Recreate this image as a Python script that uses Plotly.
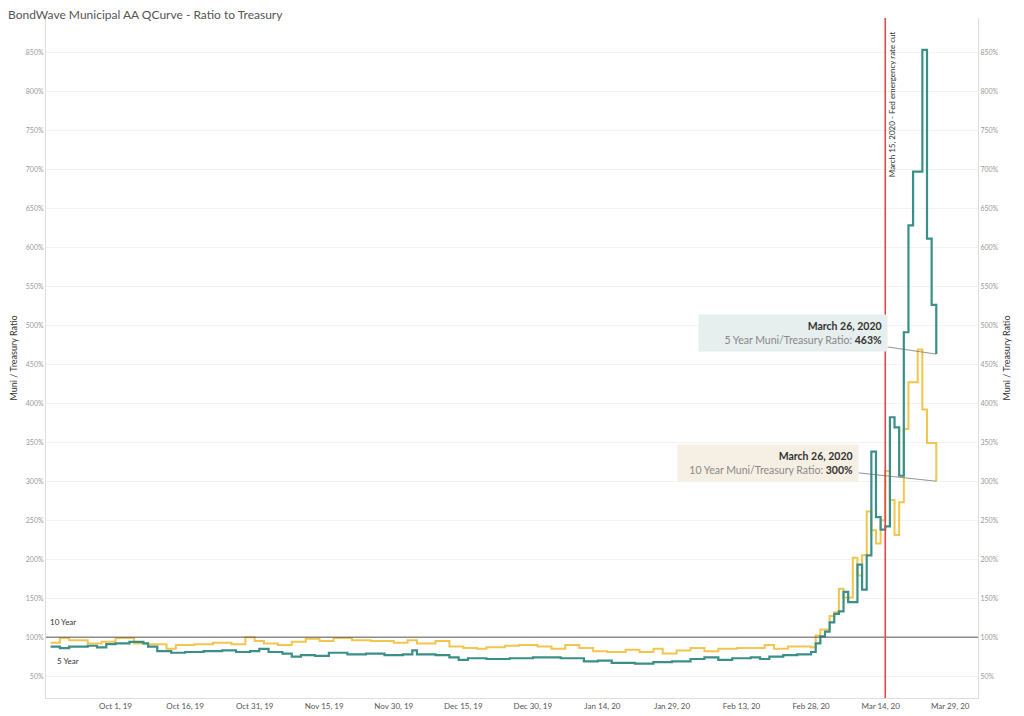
import plotly.graph_objects as go

# 5 year muni/treasury ratio, change points (step chart)
dates_5y = [
    '2019-09-17', '2019-09-19', '2019-09-21', '2019-09-25', '2019-09-27', '2019-09-29',
    '2019-10-01', '2019-10-04', '2019-10-07', '2019-10-08', '2019-10-10', '2019-10-13',
    '2019-10-16', '2019-10-20', '2019-10-24', '2019-10-27', '2019-10-30', '2019-11-01',
    '2019-11-03', '2019-11-06', '2019-11-08', '2019-11-10', '2019-11-13', '2019-11-16',
    '2019-11-20', '2019-11-24', '2019-11-28', '2019-12-02', '2019-12-04', '2019-12-05',
    '2019-12-09', '2019-12-12', '2019-12-14', '2019-12-16', '2019-12-20', '2019-12-25',
    '2019-12-30', '2020-01-05', '2020-01-10', '2020-01-13', '2020-01-16', '2020-01-21',
    '2020-01-25', '2020-01-29', '2020-02-02', '2020-02-05', '2020-02-08', '2020-02-11',
    '2020-02-15', '2020-02-17', '2020-02-19', '2020-02-22', '2020-02-25', '2020-02-28',
    '2020-02-29', '2020-03-01', '2020-03-02', '2020-03-03', '2020-03-04', '2020-03-05',
    '2020-03-06', '2020-03-07', '2020-03-09', '2020-03-10', '2020-03-11', '2020-03-12',
    '2020-03-13', '2020-03-14', '2020-03-15', '2020-03-16', '2020-03-17', '2020-03-18',
    '2020-03-19', '2020-03-20', '2020-03-21', '2020-03-23', '2020-03-24', '2020-03-25',
    '2020-03-26',
]
ratio_5y = [
    88, 86, 88, 89, 87, 91,
    92, 94, 92, 88, 82, 80,
    81, 82, 83, 81, 82, 85,
    81, 79, 75, 77, 76, 80,
    78, 79, 77, 78, 83, 78,
    77, 74, 71, 73, 72, 73,
    74, 73, 69, 70, 67, 66,
    68, 69, 72, 74, 71, 73,
    74, 72, 75, 77, 78, 81,
    92, 101, 107, 119, 130, 133,
    158, 145, 193, 161, 205, 338,
    254, 238, 242, 382, 369, 307,
    491, 628, 697, 853, 611, 526,
    463,
]

# 10 year muni/treasury ratio
dates_10y = [
    '2019-09-17', '2019-09-19', '2019-09-21', '2019-09-25', '2019-09-28', '2019-10-01',
    '2019-10-05', '2019-10-08', '2019-10-12', '2019-10-14', '2019-10-18', '2019-10-22',
    '2019-10-26', '2019-10-29', '2019-10-31', '2019-11-02', '2019-11-05', '2019-11-08',
    '2019-11-11', '2019-11-14', '2019-11-17', '2019-11-21', '2019-11-25', '2019-11-30',
    '2019-12-03', '2019-12-05', '2019-12-09', '2019-12-12', '2019-12-15', '2019-12-18',
    '2019-12-20', '2019-12-24', '2019-12-27', '2019-12-31', '2020-01-03', '2020-01-06',
    '2020-01-09', '2020-01-12', '2020-01-15', '2020-01-19', '2020-01-22', '2020-01-25',
    '2020-01-27', '2020-01-30', '2020-02-02', '2020-02-05', '2020-02-08', '2020-02-12',
    '2020-02-18', '2020-02-20', '2020-02-23', '2020-02-28',
    '2020-02-29', '2020-03-01', '2020-03-03', '2020-03-04', '2020-03-05',
    '2020-03-06', '2020-03-08', '2020-03-09', '2020-03-10', '2020-03-11', '2020-03-12',
    '2020-03-13', '2020-03-14', '2020-03-15', '2020-03-16', '2020-03-17', '2020-03-18',
    '2020-03-19', '2020-03-20', '2020-03-22', '2020-03-23', '2020-03-24', '2020-03-26',
]
ratio_10y = [
    93, 99, 96, 92, 94, 99,
    92, 91, 85, 90, 91, 93,
    91, 100, 95, 92, 90, 94,
    98, 95, 99, 96, 95, 93,
    96, 92, 95, 88, 86, 85,
    87, 89, 90, 88, 85, 90,
    86, 82, 81, 84, 81, 85,
    79, 83, 86, 82, 85, 86,
    90, 85, 88, 87,
    102, 110, 127, 132, 162,
    151, 202, 179, 205, 261, 237,
    220, 250, 313, 276, 231, 273,
    367, 427, 469, 392, 349, 300,
]

tick_dates = ['2019-10-01', '2019-10-16', '2019-10-31', '2019-11-15', '2019-11-30',
              '2019-12-15', '2019-12-30', '2020-01-14', '2020-01-29', '2020-02-13',
              '2020-02-28', '2020-03-14', '2020-03-29']
tick_labels = ['Oct 1, 19', 'Oct 16, 19', 'Oct 31, 19', 'Nov 15, 19', 'Nov 30, 19',
               'Dec 15, 19', 'Dec 30, 19', 'Jan 14, 20', 'Jan 29, 20', 'Feb 13, 20',
               'Feb 28, 20', 'Mar 14, 20', 'Mar 29, 20']
y_ticks = list(range(50, 851, 50))

TEAL = '#3a8f89'
GOLD = '#f1c54e'
FONT = 'Lato'

fig = go.Figure()
fig.add_trace(go.Scatter(x=dates_10y, y=ratio_10y, mode='lines', line_shape='hv',
                         line=dict(color=GOLD, width=2), name='10 Year'))
fig.add_trace(go.Scatter(x=dates_5y, y=ratio_5y, mode='lines', line_shape='hv',
                         line=dict(color=TEAL, width=2.2), name='5 Year'))
# invisible trace for right axis
fig.add_trace(go.Scatter(x=[dates_5y[0]], y=[100], yaxis='y2', mode='markers',
                         marker=dict(opacity=0), showlegend=False, hoverinfo='skip'))

yax = dict(range=[22, 894], tickvals=y_ticks, ticktext=[f'{v}%' for v in y_ticks],
           tickfont=dict(size=7, color='#999999', family=FONT),
           showgrid=True, gridcolor='#f3f3f3', zeroline=False, automargin=False,
           title=dict(text='Muni / Treasury Ratio', standoff=6,
                      font=dict(size=9, color='#333333', family=FONT)),
           showline=True, linecolor='#dddddd', ticks='')

fig.update_layout(
    width=1024, height=716,
    margin=dict(l=38, r=54, t=10, b=26),
    plot_bgcolor='white', paper_bgcolor='white',
    showlegend=False,
    title=dict(text='BondWave Municipal AA QCurve - Ratio to Treasury', x=0.0, y=0.997,
               xanchor='left', yanchor='top', pad=dict(t=0, l=0),
               font=dict(size=12, color='#555555', family=FONT)),
    xaxis=dict(range=['2019-09-16', '2020-04-04'], tickvals=tick_dates, ticktext=tick_labels,
               tickfont=dict(size=8, color='#555555', family=FONT), showgrid=False,
               automargin=False, showline=True, linecolor='#dddddd', ticks=''),
    yaxis=yax,
    yaxis2=dict(yax, overlaying='y', side='right'),
)

fig.add_hline(y=100, line=dict(color='#555555', width=1))
fig.add_vline(x='2020-03-15', line=dict(color='#e0474c', width=1.6))

fig.add_annotation(x='2020-03-15', y=880, xshift=7, text='March 15, 2020 - Fed emergency rate cut',
                   textangle=-90, showarrow=False, xanchor='center', yanchor='top',
                   font=dict(size=8, color='#333333', family=FONT))
fig.add_annotation(x='2020-03-26', y=463, ax=-143, ay=-21, showarrow=True, arrowhead=0,
                   arrowwidth=0.7, arrowcolor='#666666', align='right',
                   text='<b>March 26, 2020</b><br><span style="color:#888888">5 Year Muni/Treasury Ratio: </span><b>463%</b>',
                   bgcolor='#e7eeee', borderpad=5, width=178,
                   font=dict(size=10.5, color='#333333', family=FONT))
fig.add_annotation(x='2020-03-26', y=300, ax=-168, ay=-18, showarrow=True, arrowhead=0,
                   arrowwidth=0.7, arrowcolor='#666666', align='right',
                   text='<b>March 26, 2020</b><br><span style="color:#888888">10 Year Muni/Treasury Ratio: </span><b>300%</b>',
                   bgcolor='#f6f0e4', borderpad=5, width=170,
                   font=dict(size=10.5, color='#333333', family=FONT))
fig.add_annotation(x='2019-09-16', y=120, xanchor='left', showarrow=False, xshift=2, text='10 Year',
                   font=dict(size=8, color='#333333', family=FONT))
fig.add_annotation(x='2019-09-16', y=70, xanchor='left', showarrow=False, xshift=9, text='5 Year',
                   font=dict(size=8, color='#333333', family=FONT))

fig.write_html('out.html')
